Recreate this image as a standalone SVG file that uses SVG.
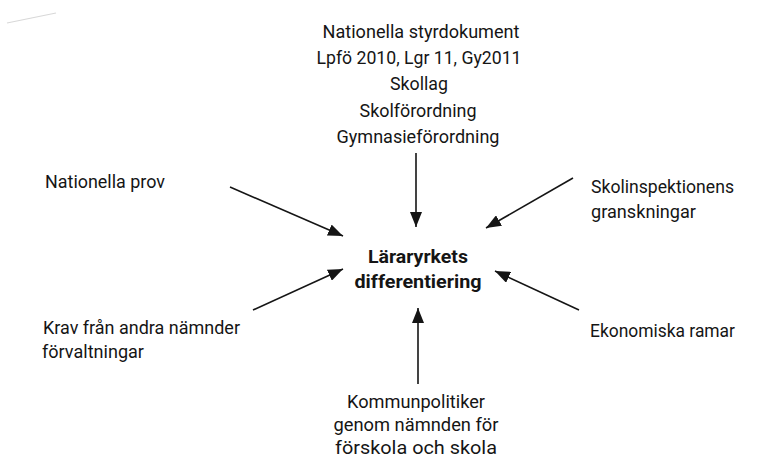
<svg xmlns="http://www.w3.org/2000/svg" width="766" height="466" viewBox="0 0 766 466">
  <defs>
    <style>
      .t { font-family: Roboto, "Open Sans", "Liberation Sans", sans-serif; font-size: 19px; fill: #151515; }
      .c { text-anchor: middle; }
      .b { font-weight: bold; font-size: 19px; }
      .ln { stroke: #151515; stroke-width: 1.6; fill: none; marker-end: url(#ah); }
    </style>
    <marker id="ah" markerUnits="userSpaceOnUse" markerWidth="16" markerHeight="12" refX="15" refY="6" orient="auto">
      <path d="M0,0 L15,6 L0,12 Z" fill="#151515"/>
    </marker>
  </defs>
  <rect width="766" height="466" fill="#ffffff"/>
  <path d="M7,23 L56,13" stroke="#d8d8d8" stroke-width="1.2" fill="none"/>

  <g id="n-styrdokument">
    <text class="t c" x="421" y="38" textLength="197" lengthAdjust="spacingAndGlyphs">Nationella styrdokument</text>
    <text class="t c" x="419" y="64" textLength="205" lengthAdjust="spacingAndGlyphs">Lpfö 2010, Lgr 11, Gy2011</text>
    <text class="t c" x="419" y="90" textLength="58" lengthAdjust="spacingAndGlyphs">Skollag</text>
    <text class="t c" x="418" y="117" textLength="117" lengthAdjust="spacingAndGlyphs">Skolförordning</text>
    <text class="t c" x="418" y="143" textLength="163" lengthAdjust="spacingAndGlyphs">Gymnasieförordning</text>
  </g>

  <g id="n-center">
    <text class="t c b" x="418" y="263" textLength="100" lengthAdjust="spacingAndGlyphs">Läraryrkets</text>
    <text class="t c b" x="418" y="288" textLength="127" lengthAdjust="spacingAndGlyphs">differentiering</text>
  </g>

  <g id="n-prov">
    <text class="t" x="45" y="188" textLength="120" lengthAdjust="spacingAndGlyphs">Nationella prov</text>
  </g>

  <g id="n-skolinspektion">
    <text class="t" x="591" y="193" textLength="143" lengthAdjust="spacingAndGlyphs">Skolinspektionens</text>
    <text class="t" x="591" y="218" textLength="105" lengthAdjust="spacingAndGlyphs">granskningar</text>
  </g>

  <g id="n-krav">
    <text class="t" x="43" y="334" textLength="197" lengthAdjust="spacingAndGlyphs">Krav från andra nämnder</text>
    <text class="t" x="42" y="358" textLength="102" lengthAdjust="spacingAndGlyphs">förvaltningar</text>
  </g>

  <g id="n-ekonomi">
    <text class="t" x="590" y="337" textLength="145" lengthAdjust="spacingAndGlyphs">Ekonomiska ramar</text>
  </g>

  <g id="n-kommun">
    <text class="t c" x="416" y="408" textLength="138" lengthAdjust="spacingAndGlyphs">Kommunpolitiker</text>
    <text class="t c" x="416" y="431" textLength="165" lengthAdjust="spacingAndGlyphs">genom nämnden för</text>
    <text class="t c" x="416" y="454" textLength="162" lengthAdjust="spacingAndGlyphs">förskola och skola</text>
  </g>

  <g id="connectors">
    <line class="ln" x1="416" y1="153" x2="416" y2="227"/>
    <line class="ln" x1="230" y1="187" x2="343" y2="236"/>
    <line class="ln" x1="573" y1="178" x2="486" y2="228"/>
    <line class="ln" x1="253" y1="310" x2="343" y2="269"/>
    <line class="ln" x1="579" y1="310" x2="495" y2="271"/>
    <line class="ln" x1="418" y1="384" x2="418" y2="308"/>
  </g>
</svg>
